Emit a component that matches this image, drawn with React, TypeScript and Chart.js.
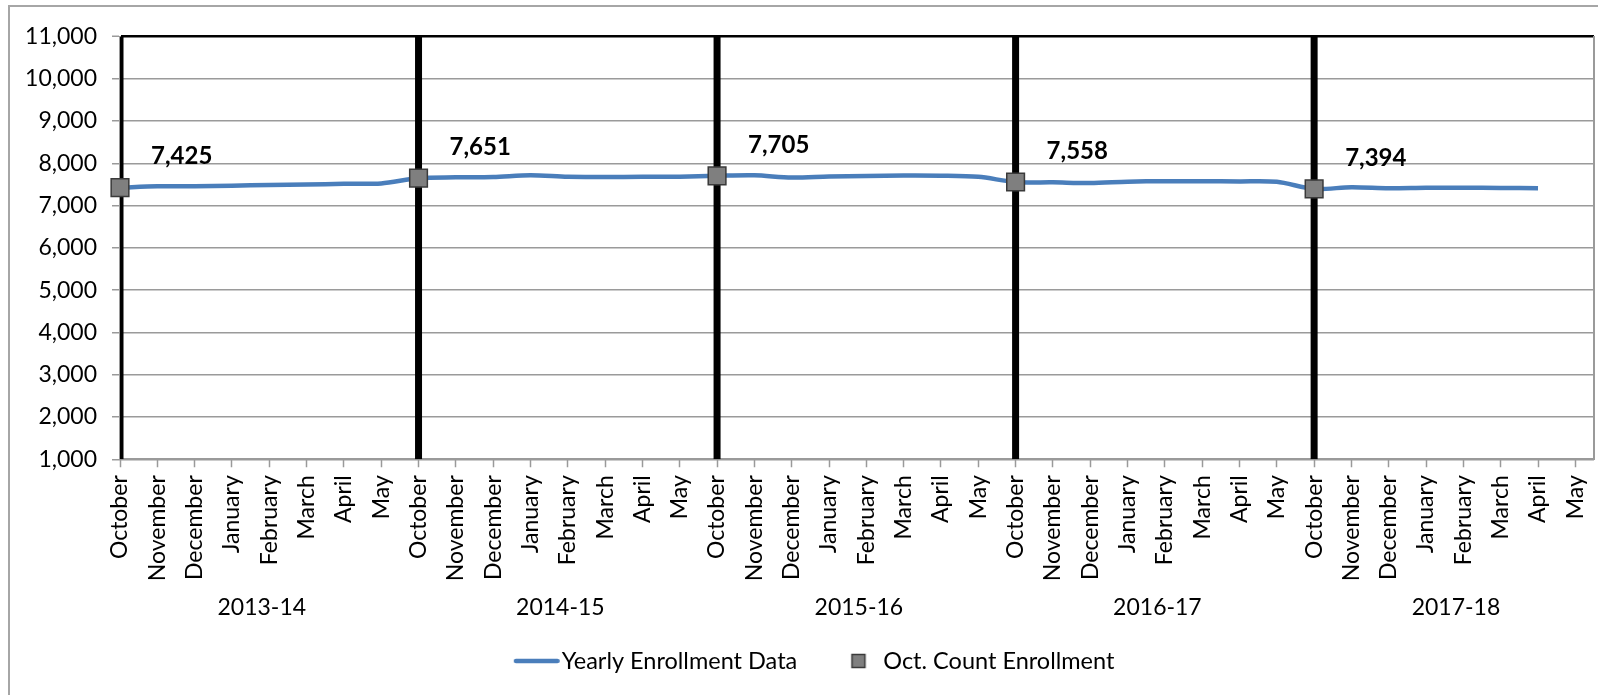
import React, { useEffect, useRef } from 'react';
import { Chart, registerables } from 'chart.js';

Chart.register(...registerables);

const months = ['October', 'November', 'December', 'January', 'February', 'March', 'April', 'May'];
const schoolYears = ['2013-14', '2014-15', '2015-16', '2016-17', '2017-18'];
const yearlyEnrollment: (number | null)[] = [
  7425, 7455, 7460, 7470, 7490, 7500, 7515, 7525,
  7651, 7668, 7675, 7718, 7680, 7678, 7680, 7685,
  7705, 7715, 7665, 7690, 7700, 7712, 7708, 7680,
  7558, 7550, 7535, 7565, 7578, 7575, 7572, 7562,
  7394, 7435, 7410, 7422, 7422, 7418, 7412, null,
];
const octCountEnrollment = [7425, 7651, 7705, 7558, 7394];
const yAxisMin = 1000;
const yAxisMax = 11000;
const yAxisStep = 1000;

const categories = schoolYears.flatMap(() => months);
const octIndices = schoolYears.map((_, k) => k * months.length);

const BLUE = '#4a7ebb';
const FONT = 'Lato, "Noto Sans", sans-serif';
const GRID = '#9a9a9a';
const CANVAS_W = 1608;
const CANVAS_H = 695;

export default function App() {
  const ref = useRef<HTMLCanvasElement>(null);

  useEffect(() => {
    let chart: Chart | null = null;
    let cancelled = false;

    const build = () => {
      if (cancelled || !ref.current) return;

      const lineIcon = document.createElement('canvas');
      lineIcon.width = 88;
      lineIcon.height = 8;
      const c1 = lineIcon.getContext('2d')!;
      c1.strokeStyle = BLUE;
      c1.lineWidth = 4.5;
      c1.lineCap = 'round';
      c1.beginPath();
      c1.moveTo(44.1, 4);
      c1.lineTo(85.6, 4);
      c1.stroke();

      const sqIcon = document.createElement('canvas');
      sqIcon.width = 60;
      sqIcon.height = 16;
      const c2 = sqIcon.getContext('2d')!;
      c2.fillStyle = '#7f7f7f';
      c2.fillRect(44.6, 1.5, 13, 13);
      c2.strokeStyle = '#3a3a3a';
      c2.lineWidth = 1.5;
      c2.strokeRect(44.6, 1.5, 13, 13);

      const vLines = octIndices.map((i) => ({
        type: 'line' as const,
        label: '_vline',
        data: [
          { x: i, y: yAxisMin },
          { x: i, y: yAxisMax },
        ],
        borderColor: '#000',
        borderWidth: 7,
        borderCapStyle: 'butt' as const,
        pointRadius: 0,
        clip: 0,
        order: 3,
      }));

      const octDatasetIndex = 1;

      const octLabelPlugin = {
        id: 'octLabels',
        afterDatasetsDraw(c: Chart) {
          const meta = c.getDatasetMeta(octDatasetIndex);
          const ctx = c.ctx;
          ctx.save();
          ctx.font = `bold 24px ${FONT}`;
          ctx.fillStyle = '#000';
          ctx.textAlign = 'left';
          ctx.textBaseline = 'middle';
          meta.data.forEach((pt: any, k: number) => {
            ctx.fillText(octCountEnrollment[k].toLocaleString('en-US'), pt.x + 31, pt.y - 31);
          });
          ctx.restore();
        },
      };

      const noSidePadding = (axis: any) => {
        axis.paddingLeft = 0;
        axis.paddingRight = 0;
      };

      chart = new Chart(ref.current, {
        type: 'line',
        data: {
          datasets: [
            {
              label: 'Yearly Enrollment Data',
              data: categories.map((_, i) => ({ x: i, y: yearlyEnrollment[i] })),
              borderColor: BLUE,
              backgroundColor: BLUE,
              borderWidth: 4.5,
              pointRadius: 0,
              tension: 0.3,
              order: 2,
            },
            {
              label: 'Oct. Count Enrollment',
              data: octIndices.map((i, k) => ({ x: i, y: octCountEnrollment[k] })),
              showLine: false,
              pointStyle: 'rect',
              pointRadius: 12.5,
              pointBackgroundColor: '#7f7f7f',
              pointBorderColor: '#3a3a3a',
              pointBorderWidth: 1.5,
              clip: false,
              order: 1,
            },
            ...vLines,
          ] as any,
        },
        options: {
          responsive: false,
          animation: false,
          events: [],
          layout: { padding: { left: -12, right: 0, top: 36.5, bottom: 12.25 } },
          plugins: {
            tooltip: { enabled: false },
            legend: {
              position: 'bottom',
              labels: {
                usePointStyle: true,
                pointStyleWidth: 68.25,
                padding: 6,
                color: '#000',
                font: { family: FONT, size: 23.5 },
                generateLabels: () =>
                  [
                    { text: 'Yearly Enrollment Data', pointStyle: lineIcon, fillStyle: BLUE, strokeStyle: BLUE, lineWidth: 0, hidden: false, datasetIndex: 0 },
                    { text: 'Oct. Count Enrollment', pointStyle: sqIcon, fillStyle: '#7f7f7f', strokeStyle: '#3a3a3a', lineWidth: 0, hidden: false, datasetIndex: 1 },
                  ] as any,
              },
            },
          },
          scales: {
            x: {
              type: 'linear',
              position: 'bottom',
              min: 0,
              max: categories.length - 0.5,
              afterBuildTicks: (axis: any) => {
                axis.ticks = categories.map((_, i) => ({ value: i }));
              },
              afterFit: (axis: any) => {
                axis.height = 120;
                noSidePadding(axis);
              },
              grid: { drawOnChartArea: false, tickLength: 8, tickColor: GRID, tickWidth: 1.5 },
              border: { color: GRID, width: 2 },
              ticks: {
                autoSkip: false,
                maxRotation: 90,
                minRotation: 90,
                padding: 8,
                color: '#000',
                font: { family: FONT, size: 23 },
                callback: (v: any) => categories[v as number],
              },
            },
            x2: {
              type: 'linear',
              position: 'bottom',
              min: 0,
              max: categories.length - 0.5,
              afterBuildTicks: (axis: any) => {
                axis.ticks = schoolYears.map((_, k) => ({ value: k * months.length + 3.8 }));
              },
              afterFit: (axis: any) => {
                axis.height = 64;
                noSidePadding(axis);
              },
              grid: { display: false, drawTicks: false },
              border: { display: false },
              ticks: {
                autoSkip: false,
                maxRotation: 0,
                minRotation: 0,
                padding: 15,
                color: '#000',
                font: { family: FONT, size: 23 },
                callback: (_v: any, index: number) => schoolYears[index],
              },
            },
            y: {
              type: 'linear',
              min: yAxisMin,
              max: yAxisMax,
              afterFit: (axis: any) => {
                axis.width = 132;
              },
              grid: {
                tickLength: 8,
                tickColor: GRID,
                tickWidth: 1.5,
                color: (ctx: any) => (ctx.tick && ctx.tick.value === yAxisMax ? '#000' : GRID),
                lineWidth: (ctx: any) => (ctx.tick && ctx.tick.value === yAxisMax ? 2.5 : 1.5),
              },
              border: { color: GRID, width: 2 },
              ticks: {
                stepSize: yAxisStep,
                padding: 15,
                color: '#000',
                font: { family: FONT, size: 23 },
                callback: (v: any) => Number(v).toLocaleString('en-US'),
              },
            },
            y2: {
              type: 'linear',
              position: 'right',
              afterFit: (axis: any) => {
                axis.width = 0;
              },
              grid: { display: false, drawTicks: false },
              ticks: { display: false },
              border: { display: true, color: GRID, width: 2 },
            },
          },
        } as any,
        plugins: [octLabelPlugin],
      });
    };

    const fontsReady = (document as any).fonts
      ? Promise.all([
          (document as any).fonts.load(`23px Lato`),
          (document as any).fonts.load(`bold 24px Lato`),
        ]).catch(() => null)
      : Promise.resolve(null);
    fontsReady.then(build);

    return () => {
      cancelled = true;
      if (chart) chart.destroy();
    };
  }, []);

  return (
    <div style={{ position: 'fixed', inset: 0, overflow: 'hidden', background: '#fff' }}>
      <div
        style={{
          position: 'absolute',
          left: 8,
          top: 5,
          width: 1700,
          height: 900,
          border: '2px solid #a6a6a6',
          boxSizing: 'border-box',
        }}
      />
      <canvas
        ref={ref}
        width={CANVAS_W}
        height={CANVAS_H}
        style={{ position: 'absolute', left: 0, top: 0, width: CANVAS_W, height: CANVAS_H }}
      />
    </div>
  );
}
